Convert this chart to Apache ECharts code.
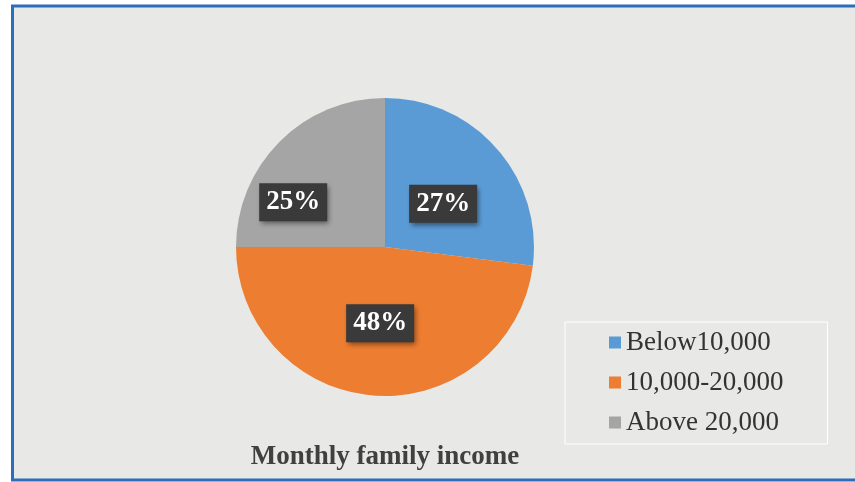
<!DOCTYPE html>
<html>
<head>
<meta charset="utf-8">
<script src="https://cdn.jsdelivr.net/npm/echarts@6/dist/echarts.min.js"></script>
<style>
html,body{margin:0;padding:0;background:#fff;}
#chart{width:855px;height:482px;}
</style>
</head>
<body>
<div id="chart"></div>
<script>
var categories = ['Below10,000', '10,000-20,000', 'Above 20,000'];
var shares = [27, 48, 25];
var sliceColors = ['#5b9bd5', '#ed7d31', '#a5a5a5'];
var chartTitle = 'Monthly family income';

// label nudges so boxes sit where the original put them
var labelNudge = [[0, 8], [0, -1], [-37, 10]];

var Chart = {
	init:function(){
		var myChart = echarts.init(document.getElementById('chart'));
		var data = [];
		for (var i = 0; i < categories.length; i++) {
			data.push({
				name:categories[i],
				value:shares[i],
				itemStyle:{color:sliceColors[i]},
				label:{offset:labelNudge[i]}
			});
		}
		var option = {
			backgroundColor:'#ffffff',
			animation:false,
			graphic:[{
				type:'rect',
				z:-10,
				shape:{x:12.5, y:6, width:860, height:474},
				style:{fill:'#e8e8e6', stroke:'#2b6fbb', lineWidth:3}
			}],
			title:{
				text:chartTitle,
				left:380,
				textAlign:'center',
				top:439,
				textStyle:{
					fontFamily:'Liberation Serif',
					fontWeight:'bold',
					fontSize:27,
					color:'#404040'
				}
			},
			legend:{
				orient:'vertical',
				left:565,
				top:322,
				width:263,
				padding:[7, 44, 8, 44],
				borderColor:'#ffffff',
				borderWidth:1,
				icon:'rect',
				itemWidth:12,
				itemHeight:12,
				itemGap:13,
				data:categories,
				textStyle:{
					fontFamily:'Liberation Serif',
					fontSize:27,
					color:'#333333'
				}
			},
			series:[{
				type:'pie',
				center:[385, 247],
				radius:149,
				startAngle:90,
				clockwise:true,
				labelLine:{show:false},
				label:{
					show:true,
					position:'inside',
					formatter:'{d}%',
					fontFamily:'Liberation Serif',
					fontWeight:'bold',
					fontSize:27,
					color:'#ffffff',
					backgroundColor:'#3a3a3a',
					padding:[6, 7, 5, 7],
					shadowColor:'rgba(0,0,0,0.45)',
					shadowBlur:5,
					shadowOffsetX:2,
					shadowOffsetY:3
				},
				emphasis:{disabled:true},
				data:data
			}]
		};
		myChart.setOption(option);
	}
};

Chart.init();
</script>
</body>
</html>
